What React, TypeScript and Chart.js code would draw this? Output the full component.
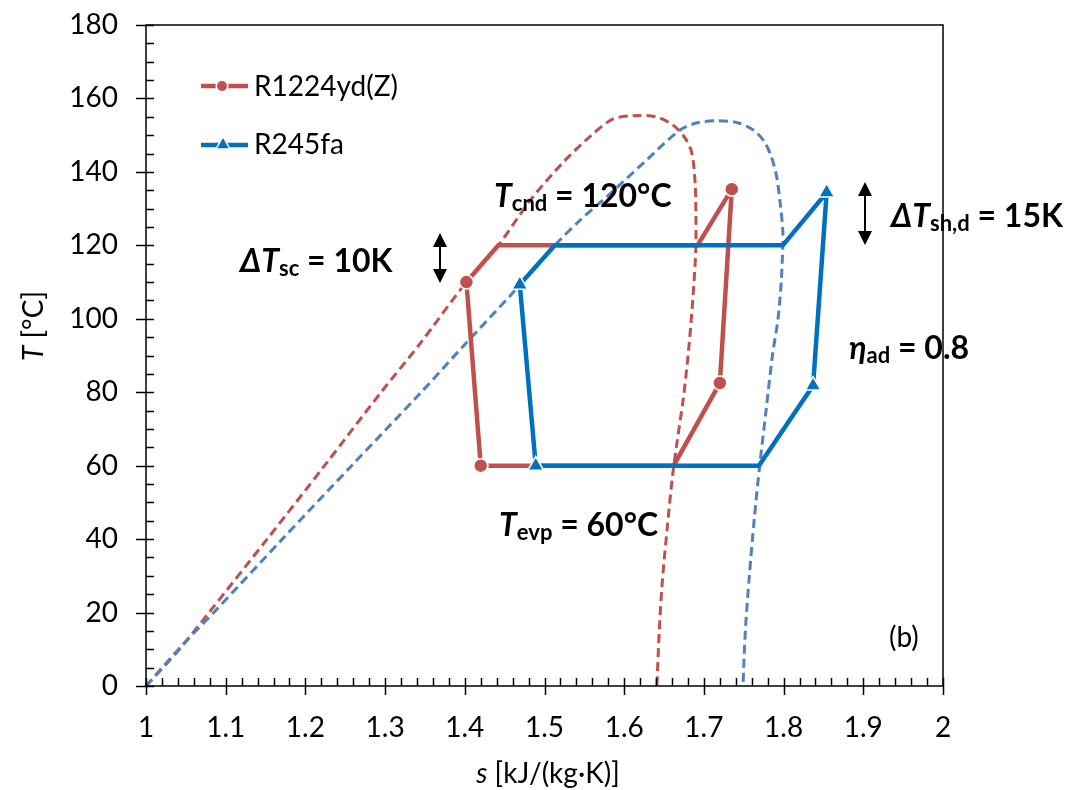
import React, { useEffect, useRef } from "react";
import { Chart, registerables } from "chart.js";

Chart.register(...registerables);

// ---------- data ----------
const xTicks = [1, 1.1, 1.2, 1.3, 1.4, 1.5, 1.6, 1.7, 1.8, 1.9, 2];
const xTickLabels = ["1", "1.1", "1.2", "1.3", "1.4", "1.5", "1.6", "1.7", "1.8", "1.9", "2"];
const yTicks = [0, 20, 40, 60, 80, 100, 120, 140, 160, 180];
const yTickLabels = ["0", "20", "40", "60", "80", "100", "120", "140", "160", "180"];
const xMinorStep = 0.02;
const yMinorStep = 5;

// saturation dome R1224yd(Z)
const redDomeS = [1.0, 1.042, 1.079, 1.152, 1.224, 1.295, 1.343, 1.402, 1.442, 1.483, 1.523, 1.558, 1.585, 1.612, 1.64, 1.662, 1.677, 1.685, 1.689, 1.69, 1.69, 1.689, 1.686, 1.681, 1.674, 1.666, 1.66, 1.654, 1.648, 1.644, 1.641];
const redDomeT = [0, 10, 20, 40, 60, 80, 93, 110, 120, 132.5, 142.5, 149.8, 154.3, 155.3, 155, 152.6, 149, 145, 137, 128, 120, 115, 105, 92, 78, 66, 56, 43, 29, 15, 0];

// saturation dome R245fa
const blueDomeS = [1.0, 1.045, 1.085, 1.171, 1.258, 1.344, 1.4, 1.46, 1.513, 1.545, 1.578, 1.628, 1.67, 1.692, 1.716, 1.742, 1.762, 1.775, 1.784, 1.791, 1.796, 1.799, 1.799, 1.797, 1.793, 1.786, 1.778, 1.77, 1.763, 1.757, 1.752, 1.749];
const blueDomeT = [0, 11, 20, 40, 60, 79.7, 93, 107, 120, 126.9, 133.2, 143.2, 151.4, 153.4, 153.9, 153.4, 151.4, 148.5, 144.5, 139, 131, 124, 120, 110, 100, 90, 75, 60, 45, 30, 15, 0];

// cycle R1224yd(Z)
const redCycleS = [1.42, 1.402, 1.442, 1.692, 1.735, 1.72, 1.662, 1.42];
const redCycleT = [60, 110, 120, 120, 135.3, 82.5, 60, 60];
const redCycleMarker = [1, 1, 0, 0, 1, 1, 0, 1];

// cycle R245fa
const blueCycleS = [1.489, 1.469, 1.513, 1.799, 1.854, 1.837, 1.769, 1.489];
const blueCycleT = [60, 109.3, 120, 120, 134.4, 81.8, 60, 60];
const blueCycleMarker = [1, 1, 0, 0, 1, 1, 0, 1];

const seriesNames = ["R1224yd(Z)", "R245fa"];

// ---------- styles ----------
const RED = "#C0504D";
const BLUE = "#0070C0";
const BLUE_DASH = "#4F81BD";
const FAM = "Lato, 'Noto Sans', 'DejaVu Sans', sans-serif";

const pts = (s: number[], t: number[]) => s.map((v, i) => ({ x: v, y: t[i] }));

type Seg = { t: string; f: string; dy?: number };

function drawRich(ctx: CanvasRenderingContext2D, segs: Seg[], x: number, y: number, align: "left" | "center" = "left") {
  let total = 0;
  for (const s of segs) {
    ctx.font = s.f;
    total += ctx.measureText(s.t).width;
  }
  let cx = align === "center" ? x - total / 2 : x;
  ctx.textBaseline = "alphabetic";
  ctx.textAlign = "left";
  for (const s of segs) {
    ctx.font = s.f;
    ctx.fillText(s.t, cx, y + (s.dy || 0));
    cx += ctx.measureText(s.t).width;
  }
}

function drawArrow(ctx: CanvasRenderingContext2D, x: number, y1: number, y2: number) {
  const hw = 7, hl = 14;
  ctx.save();
  ctx.strokeStyle = "#000";
  ctx.fillStyle = "#000";
  ctx.lineWidth = 2;
  ctx.beginPath();
  ctx.moveTo(x, y1 + hl - 2);
  ctx.lineTo(x, y2 - hl + 2);
  ctx.stroke();
  ctx.beginPath();
  ctx.moveTo(x, y1);
  ctx.lineTo(x - hw, y1 + hl);
  ctx.lineTo(x + hw, y1 + hl);
  ctx.closePath();
  ctx.fill();
  ctx.beginPath();
  ctx.moveTo(x, y2);
  ctx.lineTo(x - hw, y2 - hl);
  ctx.lineTo(x + hw, y2 - hl);
  ctx.closePath();
  ctx.fill();
  ctx.restore();
}

const decorPlugin = {
  id: "decor",
  afterDatasetsDraw(chart: any) {
    const ctx: CanvasRenderingContext2D = chart.ctx;
    ctx.save();
    ctx.fillStyle = "#000";

    // legend
    const legY = [86, 145];
    ctx.lineCap = "butt";
    ctx.strokeStyle = RED;
    ctx.lineWidth = 4.5;
    ctx.beginPath();
    ctx.moveTo(201, legY[0]);
    ctx.lineTo(248, legY[0]);
    ctx.stroke();
    ctx.beginPath();
    ctx.arc(222, legY[0], 5, 0, Math.PI * 2);
    ctx.strokeStyle = "#fff";
    ctx.lineWidth = 3;
    ctx.stroke();
    ctx.fillStyle = RED;
    ctx.fill();

    ctx.strokeStyle = BLUE;
    ctx.lineWidth = 4.5;
    ctx.beginPath();
    ctx.moveTo(201, legY[1]);
    ctx.lineTo(248, legY[1]);
    ctx.stroke();
    ctx.beginPath();
    ctx.moveTo(223, legY[1] - 7);
    ctx.lineTo(223 - 5.7, legY[1] + 3.2);
    ctx.lineTo(223 + 5.7, legY[1] + 3.2);
    ctx.closePath();
    ctx.strokeStyle = "#fff";
    ctx.lineWidth = 3;
    ctx.stroke();
    ctx.fillStyle = BLUE;
    ctx.fill();

    ctx.fillStyle = "#000";
    ctx.font = `28px ${FAM}`;
    ctx.textBaseline = "middle";
    ctx.textAlign = "left";
    ctx.fillText(seriesNames[0], 254, legY[0] + 1);
    ctx.fillText(seriesNames[1], 254, legY[1]);

    // annotations
    const B = `bold 32px ${FAM}`;
    const IB = `italic bold 32px ${FAM}`;
    const SB = `bold 22px ${FAM}`;
    drawRich(ctx, [{ t: "T", f: IB }, { t: "cnd", f: SB, dy: 4 }, { t: " = 120°C", f: B }], 494, 207);
    drawRich(ctx, [{ t: "ΔT", f: IB }, { t: "sc", f: SB, dy: 4 }, { t: " = 10K", f: B }], 240, 272);
    drawRich(ctx, [{ t: "ΔT", f: IB }, { t: "sh,d", f: SB, dy: 4 }, { t: " = 15K", f: B }], 891, 227);
    drawRich(ctx, [{ t: "η", f: IB }, { t: "ad", f: SB, dy: 4 }, { t: " = 0.8", f: B }], 849, 359);
    drawRich(ctx, [{ t: "T", f: IB }, { t: "evp", f: SB, dy: 4 }, { t: " = 60°C", f: B }], 499, 536);
    ctx.font = `28px ${FAM}`;
    ctx.fillText("(b)", 889, 647);

    drawArrow(ctx, 440, 233, 283);
    drawArrow(ctx, 865, 182, 245);

    // axis titles
    drawRich(ctx, [{ t: "s", f: `italic 28px ${FAM}` }, { t: " [kJ/(kg·K)]", f: `28px ${FAM}` }], 548, 783, "center");
    ctx.save();
    ctx.translate(43, 326);
    ctx.rotate(-Math.PI / 2);
    drawRich(ctx, [{ t: "T", f: `italic 28px ${FAM}` }, { t: " [°C]", f: `28px ${FAM}` }], 0, 0, "center");
    ctx.restore();

    ctx.restore();
  },
  afterDraw(chart: any) {
    const ctx: CanvasRenderingContext2D = chart.ctx;
    const xs = chart.scales.x;
    const ys = chart.scales.y;
    const ca = chart.chartArea;
    ctx.save();
    ctx.strokeStyle = "#000";
    ctx.lineWidth = 1.5;
    ctx.beginPath();
    const nx = Math.round((xs.max - xs.min) / xMinorStep);
    for (let i = 0; i <= nx; i++) {
      const v = xs.min + i * xMinorStep;
      const px = Math.round(xs.getPixelForValue(v)) + 0.5;
      const major = i % 5 === 0;
      ctx.moveTo(px, ca.bottom - 8);
      ctx.lineTo(px, major ? ca.bottom + 9 : ca.bottom);
    }
    const ny = Math.round((ys.max - ys.min) / yMinorStep);
    for (let i = 0; i <= ny; i++) {
      const v = ys.min + i * yMinorStep;
      const py = Math.round(ys.getPixelForValue(v)) + 0.5;
      const major = i % 4 === 0;
      ctx.moveTo(major ? ca.left - 10 : ca.left, py);
      ctx.lineTo(ca.left + 8, py);
    }
    ctx.stroke();
    ctx.strokeRect(ca.left, ca.top, ca.right - ca.left, ca.bottom - ca.top);
    ctx.restore();
  },
};

export default function App() {
  const ref = useRef<HTMLCanvasElement | null>(null);
  useEffect(() => {
    document.body.style.margin = "0";
    const canvas = ref.current;
    if (!canvas) return;
    const tickFont = { family: FAM, size: 28 };
    const chart = new Chart(canvas, {
      type: "scatter",
      data: {
        datasets: [
          {
            label: seriesNames[1],
            data: pts(blueCycleS, blueCycleT),
            showLine: true,
            borderColor: BLUE,
            backgroundColor: BLUE,
            borderWidth: 4.5,
            tension: 0,
            pointStyle: "triangle",
            pointRadius: blueCycleMarker.map((m) => (m ? 9 : 0)),
            pointBackgroundColor: BLUE,
            pointBorderColor: "#fff",
            pointBorderWidth: 1.5,
          },
          {
            label: seriesNames[0],
            data: pts(redCycleS, redCycleT),
            showLine: true,
            borderColor: RED,
            backgroundColor: RED,
            borderWidth: 4.5,
            tension: 0,
            pointStyle: "circle",
            pointRadius: redCycleMarker.map((m) => (m ? 7 : 0)),
            pointBackgroundColor: RED,
            pointBorderColor: "#fff",
            pointBorderWidth: 1.5,
          },
          {
            label: seriesNames[1] + " dome",
            data: pts(blueDomeS, blueDomeT),
            showLine: true,
            borderColor: BLUE_DASH,
            borderWidth: 3,
            borderDash: [9, 5],
            tension: 0.3,
            pointRadius: 0,
          },
          {
            label: seriesNames[0] + " dome",
            data: pts(redDomeS, redDomeT),
            showLine: true,
            borderColor: RED,
            borderWidth: 3,
            borderDash: [9, 5],
            tension: 0.3,
            pointRadius: 0,
          },
        ],
      },
      options: {
        animation: false,
        responsive: false,
        maintainAspectRatio: false,
        devicePixelRatio: 1,
        layout: { autoPadding: false, padding: { left: 0, right: 130, top: 25, bottom: 0 } },
        plugins: { legend: { display: false }, tooltip: { enabled: false } },
        scales: {
          x: {
            type: "linear",
            min: xTicks[0],
            max: xTicks[xTicks.length - 1],
            afterBuildTicks: (s: any) => {
              s.ticks = xTicks.map((v) => ({ value: v }));
            },
            afterFit: (s: any) => {
              s.height = 104;
              s.paddingLeft = 0;
              s.paddingRight = 0;
              s.paddingTop = 0;
              s.paddingBottom = 0;
            },
            ticks: {
              autoSkip: false,
              maxRotation: 0,
              padding: 25,
              color: "#000",
              font: tickFont,
              callback: (_v: any, i: number) => xTickLabels[i],
            },
            grid: { display: false, drawTicks: false },
            border: { display: false },
          },
          y: {
            type: "linear",
            min: yTicks[0],
            max: yTicks[yTicks.length - 1],
            afterBuildTicks: (s: any) => {
              s.ticks = yTicks.map((v) => ({ value: v }));
            },
            afterFit: (s: any) => {
              s.width = 146;
              s.paddingLeft = 0;
              s.paddingRight = 0;
              s.paddingTop = 0;
              s.paddingBottom = 0;
            },
            ticks: {
              autoSkip: false,
              padding: 28,
              color: "#000",
              font: tickFont,
              callback: (_v: any, i: number) => yTickLabels[i],
            },
            grid: { display: false, drawTicks: false },
            border: { display: false },
          },
        },
      },
      plugins: [decorPlugin],
    } as any);
    return () => chart.destroy();
  }, []);
  return (
    <div style={{ position: "absolute", left: 0, top: 0, width: 1073, height: 790 }}>
      <canvas ref={ref} width={1073} height={790} style={{ display: "block", width: 1073, height: 790 }} />
    </div>
  );
}
